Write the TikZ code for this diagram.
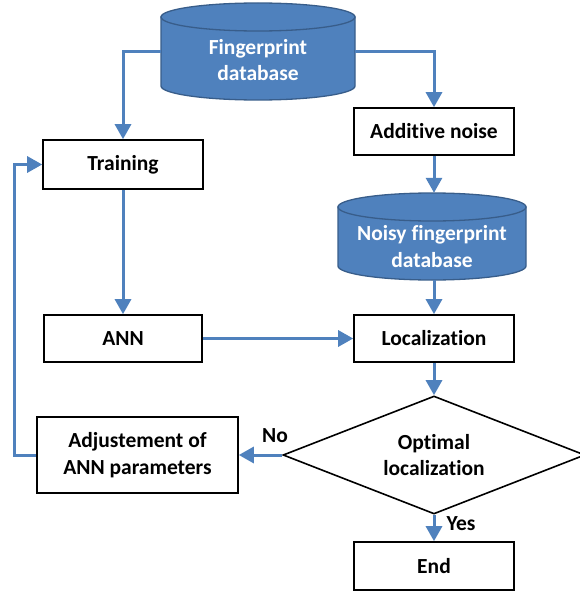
\documentclass[tikz,border=0pt]{standalone}
\usepackage{fontspec}
\setmainfont{Carlito}[Ligatures=NoCommon]
\usetikzlibrary{shapes.geometric,arrows.meta}
\definecolor{flowblue}{RGB}{79,129,189}
\definecolor{flowedge}{RGB}{56,93,138}

\begin{document}
\begin{tikzpicture}[x=1pt,y=-1pt,
		font=\fontsize{21.5}{26.5}\selectfont\bfseries,
		box/.style={draw=black,line width=1.6pt,fill=white,inner sep=0pt,align=center},
		dbshape/.style={draw=flowedge,line width=1.3pt,fill=flowblue},
		dbbox/.style={inner sep=0pt},
		dbtext/.style={text=white,align=center},
		flow/.style={draw=flowblue,line width=3pt,-{Triangle[length=15pt,width=16pt]}}]
		% Rahmen
		\useasboundingbox (0,0) rectangle (579,594);
		
		% Datenbank 1
		\filldraw[dbshape] (161,17) -- (161,86) arc[start angle=180,end angle=360,x radius=97pt,y radius=14pt] -- (355,17) -- cycle;
		\filldraw[dbshape] (258,17) ellipse[x radius=97pt,y radius=14pt];
		\node[dbbox,minimum width=194pt,minimum height=97pt] (fdb) at (258,51.5) {};
		\node[dbtext] (fdbtext) at (258,60) {Fingerprint\\database};
		
		% Datenbank 2
		\filldraw[dbshape] (338,207) -- (338,266) arc[start angle=180,end angle=360,x radius=94pt,y radius=14pt] -- (526,207) -- cycle;
		\filldraw[dbshape] (432,207) ellipse[x radius=94pt,y radius=14pt];
		\node[dbbox,minimum width=188pt,minimum height=87pt] (ndb) at (432,236.5) {};
		\node[dbtext] (ndbtext) at (432,246.5) {Noisy fingerprint\\database};
		
		% Kaesten
		\node[box,minimum width=160pt,minimum height=47pt] (noise) at (434,131.5) {Additive noise};
		\node[box,minimum width=160pt,minimum height=49pt] (train) at (123,164.5) {Training};
		\node[box,minimum width=158pt,minimum height=47pt] (ann) at (123,338.5) {ANN};
		\node[box,minimum width=160pt,minimum height=47pt] (loc) at (434,338.5) {Localization};
		\node[box,minimum width=201pt,minimum height=76pt] (adj) at (137.5,455) {Adjustement of\\ANN parameters};
		\node[box,minimum width=160pt,minimum height=48pt] (end) at (434,566) {End};
		
		% Entscheidung
		\node[box,diamond,aspect=2.56,minimum width=302pt,minimum height=118pt] (opt) at (434,455) {Optimal\\localization};
		
		% Pfeile
		\draw[flow] (fdb.west) -| (train.north);
		\draw[flow] (fdb.east) -| (noise.north);
		\draw[flow] (noise.south) -- (noise.south |- ndb.north);
		\draw[flow] (loc.north |- ndb.south) -- (loc.north);
		\draw[flow] (train.south) -- (ann.north);
		\draw[flow] (ann.east) -- (loc.west);
		\draw[flow] (loc.south) -- (opt.north);
		\draw[flow] (opt.west) -- (adj.east);
		\draw[flow] (opt.south) -- (end.north);
		\draw[flow] (adj.west) -- ++(-22,0) |- (train.west);
		
		% Beschriftung
		\node (nolbl) at (275,436) {No};
		\node (yeslbl) at (461,524) {Yes};
	\end{tikzpicture}
\end{document}
